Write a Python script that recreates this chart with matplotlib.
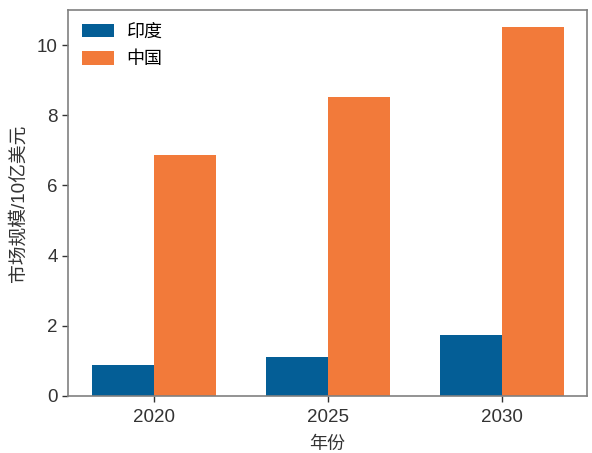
import matplotlib.pyplot as plt
import numpy as np

plt.rcParams['font.family'] = ['Liberation Sans', 'Noto Sans CJK SC']

years = ['2020', '2025', '2030']
india = [0.88, 1.12, 1.74]
china = [6.87, 8.51, 10.52]

x = np.arange(len(years))
w = 0.357

fig = plt.figure(figsize=(5.92, 4.53), dpi=100)
ax = fig.add_axes([68 / 592, 1 - 396 / 453, (587 - 68) / 592, (396 - 10) / 453])

ax.bar(x - w / 2, india, width=w, color='#045E96', label='印度')
ax.bar(x + w / 2, china, width=w, color='#F27A3A', label='中国')

ax.set_xlim(-0.495, 2.49)
ax.set_ylim(0, 11)
ax.set_xticks(x)
ax.set_xticklabels(years)
ax.set_yticks([0, 2, 4, 6, 8, 10])
ax.tick_params(labelsize=13.5, colors='#333333', length=4, width=1)
ax.tick_params(axis='x', pad=5.5)
for s in ax.spines.values():
    s.set_color('#808080')
    s.set_linewidth(1.2)

ax.set_xlabel('年份', fontsize=13, color='#333333', labelpad=7)
ax.set_ylabel('市场规模/10亿美元', fontsize=13.5, color='#333333')
ax.yaxis.set_label_coords(-0.077, 0.5)

ax.legend(loc='upper left', frameon=False, fontsize=13, handlelength=1.8,
          handleheight=0.75, handletextpad=0.7, borderaxespad=0.35, labelspacing=0.6)

fig.savefig('out.png', dpi=100)
